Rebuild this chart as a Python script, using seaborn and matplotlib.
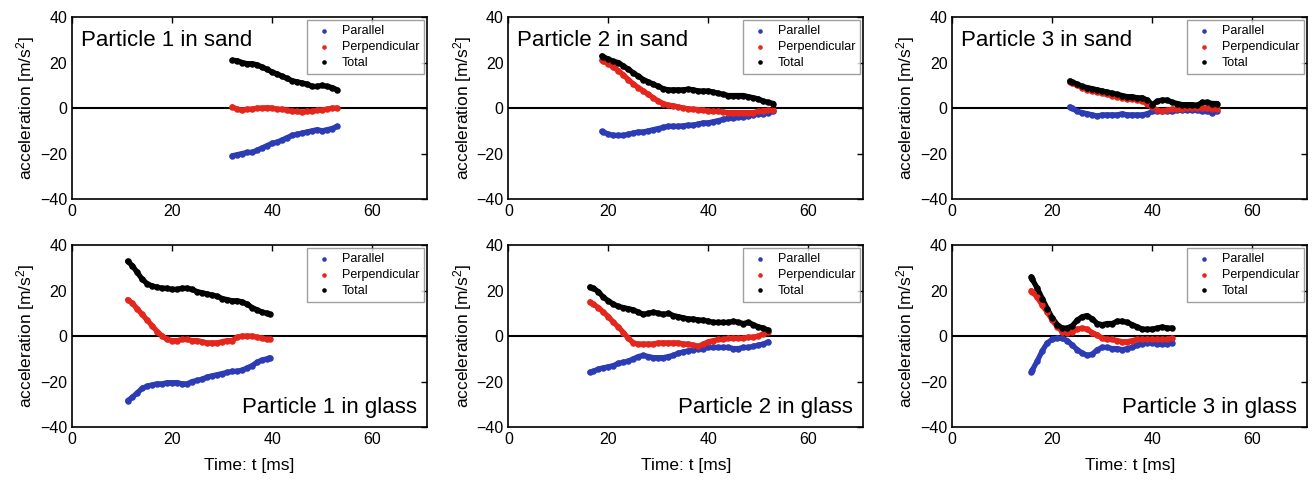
import pandas as pd
import seaborn as sns
import matplotlib.pyplot as plt

# Readings per panel: time [ms] and acceleration components [m/s^2]
t_sand1 = [32, 33, 34, 35, 36, 37, 38, 39, 40, 41, 42, 43, 44, 45, 46, 47, 48, 49, 50, 51, 52, 53]
par_sand1 = [-21, -20.5, -20, -19.5, -19.5, -18.5, -17.5, -16.5, -15.5, -15, -14, -13, -12, -11.5, -11, -10.5, -10, -9.5, -10, -9.5, -9, -8]
perp_sand1 = [0.5, -0.5, -1, -0.5, -0.5, 0, 0, 0.2, 0, -0.5, -0.5, -1, -1.5, -1.5, -1.8, -1.5, -1.5, -1, -0.8, -0.5, 0, 0]
tot_sand1 = [21, 20.8, 20, 19.5, 19.5, 19, 18, 17, 15.8, 15, 14, 13, 12, 11.5, 11, 10.5, 9.5, 9.5, 10, 9.5, 9, 8]

t_sand2 = [18.7, 19, 20, 21, 22, 23, 24, 25, 26, 27, 28, 29, 30, 31, 32, 33, 34, 35, 36, 37, 38, 39, 40, 41, 42, 43, 44, 45, 46, 47, 48, 49, 50, 51, 52, 53]
par_sand2 = [-10.3, -10.5, -11.5, -12, -12, -12, -11.5, -11, -10.5, -10.5, -10, -9.5, -9, -8.5, -8, -8, -8, -7.8, -7.5, -7.5, -7, -6.5, -6.5, -6, -5.5, -5, -4.5, -4.5, -4, -4, -3.5, -3, -2.5, -2.5, -2, -1.5]
perp_sand2 = [21, 20.5, 19.5, 18, 16.5, 14.5, 12.5, 10.5, 9, 7.5, 6, 4.5, 3, 2, 1.2, 1, 0.5, 0, -0.3, -0.5, -0.7, -1, -1.3, -1.5, -1.5, -1.8, -2, -2, -2, -2, -2, -2, -1.5, -1.2, -1, -1]
tot_sand2 = [22.9, 22.5, 21.5, 20.5, 20, 18.5, 17, 15.5, 14, 12.5, 11.5, 10.5, 9.5, 8.5, 8, 8, 8, 8, 8.3, 8, 7.5, 7.5, 7.5, 7, 6.5, 6, 5.5, 5.5, 5.5, 5.5, 5, 4.5, 4, 3, 2.5, 2]

t_sand3 = [23.5, 24, 25, 26, 27, 28, 29, 30, 31, 32, 33, 34, 35, 36, 37, 38, 39, 40, 41, 42, 43, 44, 45, 46, 47, 48, 49, 50, 51, 52, 53]
par_sand3 = [0.5, 0, -1.5, -2, -2.5, -3, -3.5, -3, -3, -3, -3, -2.5, -3, -3, -3, -3, -2.5, -1.5, -1.5, -1.5, -1.5, -1.5, -1, -1, -1, -1, -1, -1.5, -1.5, -2, -1.5]
perp_sand3 = [11.5, 11, 10, 9, 8, 7.5, 7, 6.5, 6, 5.5, 5, 4.5, 4, 4, 3.5, 3, 2, 0.5, -1, -1.5, -1, -0.5, -0.5, -0.3, 0, 0, 0, 0, 0, -0.5, -0.5]
tot_sand3 = [11.9, 11.5, 10.5, 9.5, 9, 8.5, 8, 7.5, 7, 6.5, 6, 5.5, 5, 5, 4.5, 4.5, 3.5, 1.5, 3, 3.5, 3.5, 2.5, 2, 1.5, 1.5, 1.5, 1.2, 2.5, 2.5, 2, 2]

t_glass1 = [11.1, 12, 13, 14, 15, 16, 17, 18, 19, 20, 21, 22, 23, 24, 25, 26, 27, 28, 29, 30, 31, 32, 33, 34, 35, 36, 37, 38, 39, 39.5]
par_glass1 = [-28.4, -27, -25, -23, -22, -21.5, -21, -21, -20.5, -20.5, -20.5, -21, -21, -20, -19.5, -19, -18, -17.5, -17, -16.5, -16, -15.5, -15.5, -15, -14, -13, -11.5, -10.5, -10, -9.5]
perp_glass1 = [16, 14.5, 12, 9.5, 7, 4.5, 2, 0, -1.5, -2, -2, -1.5, -1.5, -2, -2, -2.5, -3, -3, -3, -2.5, -2, -2, -0.5, 0, 0, 0, -0.5, -1, -1.5, -1.5]
tot_glass1 = [32.9, 31, 28, 25, 23, 22, 21.5, 21, 21, 20.5, 20.5, 21, 21, 20.5, 19.5, 19, 18.5, 18, 17.5, 16.5, 16, 15.5, 15.5, 15, 14, 12.5, 11.5, 10.5, 10, 9.5]

t_glass2 = [16.3, 17, 18, 19, 20, 21, 22, 23, 24, 25, 26, 27, 28, 29, 30, 31, 32, 33, 34, 35, 36, 37, 38, 39, 40, 41, 42, 43, 44, 45, 46, 47, 48, 49, 50, 51, 52]
par_glass2 = [-15.9, -15.5, -14.5, -14, -13.5, -13, -12, -11.5, -11, -10, -9, -8.5, -9, -9.5, -9.5, -9.5, -9, -8.5, -7.5, -7, -6.5, -6, -5.5, -5.5, -5, -5, -5, -5, -5, -5.5, -5.5, -5, -5, -4.5, -4, -3.5, -2.5]
perp_glass2 = [15, 14, 12.5, 10.5, 8.5, 6, 4, 1.5, -1, -3, -3.5, -3.5, -3.5, -3.5, -3, -3, -3, -3, -3, -3.5, -3.5, -4, -4.5, -3.5, -2.5, -2, -1.5, -1.5, -1, -1, -1, -1, -0.5, -0.5, 0, 1, 2]
tot_glass2 = [21.6, 21, 19.5, 17, 15.5, 14, 13, 12.5, 12, 11.5, 10.5, 9.5, 10, 10.5, 10, 9.5, 10, 9, 8.5, 8, 7.5, 7.5, 7, 7, 6.5, 6, 6, 6, 6, 6.5, 6, 5.5, 6, 5, 4, 3.5, 2.5]

t_glass3 = [15.8, 16, 17, 18, 19, 20, 21, 22, 23, 24, 25, 26, 27, 28, 29, 30, 31, 32, 33, 34, 35, 36, 37, 38, 39, 40, 41, 42, 43, 44]
par_glass3 = [-15.9, -15, -11, -6.5, -3, -1.5, -1, -1, -2, -4, -6, -7.5, -8.5, -8, -6, -5, -5, -5.5, -5.5, -6, -5.5, -5, -4, -3.5, -3, -3, -3.5, -3.5, -3.5, -3]
perp_glass3 = [20, 19.5, 17, 13.5, 10.5, 7, 4, 2, 1.5, 2, 3, 3.5, 3, 1.5, 0.5, -1, -1.5, -1.5, -2, -2.5, -2.5, -2, -1.5, -1.5, -1.5, -1.5, -1.5, -1.5, -1.5, -1]
tot_glass3 = [26, 25, 21, 16.5, 12, 8, 5, 3.5, 3.5, 4.5, 7, 8.5, 9, 7.5, 5.5, 5, 5.5, 5.5, 6.5, 6.5, 6, 5, 4, 3, 3, 3, 3.5, 4, 3.5, 3.5]

titles = ['Particle 1 in sand', 'Particle 2 in sand', 'Particle 3 in sand',
          'Particle 1 in glass', 'Particle 2 in glass', 'Particle 3 in glass']
series_names = ['Parallel', 'Perpendicular', 'Total']
colors = ['#2c3cb4', '#e5261d', '#000000']

panels = [
    (t_sand1, par_sand1, perp_sand1, tot_sand1),
    (t_sand2, par_sand2, perp_sand2, tot_sand2),
    (t_sand3, par_sand3, perp_sand3, tot_sand3),
    (t_glass1, par_glass1, perp_glass1, tot_glass1),
    (t_glass2, par_glass2, perp_glass2, tot_glass2),
    (t_glass3, par_glass3, perp_glass3, tot_glass3),
]

sns.set_style('white')
plt.rcParams['font.family'] = ['Liberation Sans', 'DejaVu Sans']
plt.rcParams['mathtext.default'] = 'regular'
plt.rcParams['text.color'] = 'black'
plt.rcParams['axes.labelcolor'] = 'black'
plt.rcParams['xtick.color'] = 'black'
plt.rcParams['ytick.color'] = 'black'

fig = plt.figure(figsize=(13.12, 4.82), dpi=100)
lefts = [0.055, 0.3875, 0.7258]
bottoms = [0.587, 0.114]
w, h = 0.2706, 0.3776

for i, (t, par, perp, tot) in enumerate(panels):
    row, col = divmod(i, 3)
    ax = fig.add_axes([lefts[col], bottoms[row], w, h])
    ax.axhline(0, color='black', lw=1.5, zorder=1)
    for name, vals, c in zip(series_names, [par, perp, tot], colors):
        df = pd.DataFrame({'t': t, 'a': vals})
        sns.lineplot(data=df, x='t', y='a', ax=ax, color=c, lw=3.8,
                     estimator=None, sort=False, zorder=2)
        sns.scatterplot(data=df, x='t', y='a', ax=ax, color=c, s=22,
                        linewidth=0, label=name, zorder=3)
    ax.set_xlim(0, 71)
    ax.set_ylim(-40, 40)
    ax.set_xticks([0, 20, 40, 60])
    ax.set_yticks([-40, -20, 0, 20, 40])
    ax.tick_params(direction='in', top=True, right=True, labelsize=11.5,
                   length=4, width=1)
    for s in ax.spines.values():
        s.set_color('black')
        s.set_linewidth(1.2)
    ax.set_ylabel('acceleration [m/s$^{2}$]', fontsize=12.5, labelpad=2)
    if row == 1:
        ax.set_xlabel('Time: t [ms]', fontsize=12.5, labelpad=8)
        ax.text(0.97, 0.105, titles[i], transform=ax.transAxes, fontsize=16,
                ha='right', va='center')
    else:
        ax.set_xlabel('')
        ax.text(0.025, 0.87, titles[i], transform=ax.transAxes, fontsize=16,
                ha='left', va='center')
    leg = ax.legend(loc='upper right', fontsize=9, frameon=True, fancybox=False,
                    edgecolor='#888888', borderaxespad=0.25, handletextpad=0.4,
                    labelspacing=0.3, markerscale=0.7, borderpad=0.4)
    leg.get_frame().set_linewidth(1.0)

fig.savefig('out.png', dpi=100)
